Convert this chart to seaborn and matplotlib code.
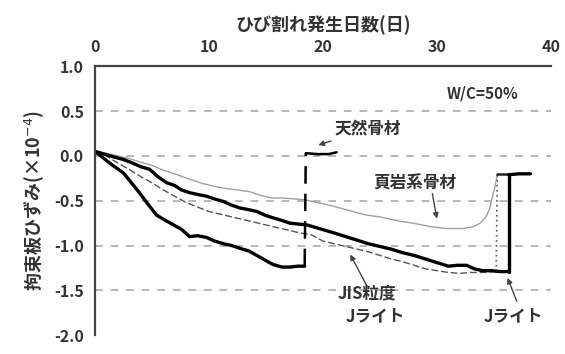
import matplotlib
matplotlib.use("Agg")
import matplotlib.pyplot as plt
import seaborn as sns
import pandas as pd

# --- data: strain of restraint plate (x1e-4) vs. days to cracking ---
nat_days = [0, 0.5, 1.5, 2.5, 3.2, 3.9, 4.6, 5.4, 6.2, 6.9, 7.6, 8.3, 9.0, 9.8,
            10.5, 11.3, 12.0, 12.7, 13.5, 14.2, 14.9, 15.6, 16.4, 17.1, 17.8, 18.4]
nat_vals = [0.05, 0.0, -0.10, -0.19, -0.30, -0.41, -0.53, -0.66, -0.72, -0.77,
            -0.82, -0.90, -0.89, -0.91, -0.95, -0.98, -1.00, -1.03, -1.06, -1.11,
            -1.16, -1.21, -1.24, -1.24, -1.23, -1.23]
nat_after_days = [18.5, 19.5, 20.5, 21.2]
nat_after_vals = [0.03, 0.02, 0.02, 0.04]

jl_days = [0, 0.8, 1.6, 2.5, 3.3, 4.0, 4.8, 5.5, 6.3, 7.0, 7.6, 8.3, 9.0, 9.8,
           10.5, 11.3, 12.0, 12.7, 13.5, 14.2, 14.9, 15.6, 16.4, 17.1, 17.8, 18.6,
           19.4, 20.2, 21.0, 22.0, 23.0, 24.0, 25.0, 26.0, 27.0, 28.0, 29.0, 30.0,
           31.0, 31.8, 32.6, 33.3, 34.0, 34.8, 35.5, 36.3]
jl_vals = [0.05, 0.02, -0.01, -0.04, -0.08, -0.12, -0.15, -0.23, -0.30, -0.33,
           -0.38, -0.41, -0.43, -0.45, -0.48, -0.51, -0.55, -0.58, -0.60, -0.62,
           -0.66, -0.69, -0.72, -0.75, -0.76, -0.77, -0.80, -0.83, -0.86, -0.90,
           -0.94, -0.98, -1.01, -1.04, -1.08, -1.11, -1.15, -1.19, -1.23, -1.22,
           -1.22, -1.26, -1.28, -1.28, -1.29, -1.29]
jl_after_days = [36.3, 37.2, 38.2]
jl_after_vals = [-0.21, -0.20, -0.20]

jis_days = [0, 1, 2, 3, 4, 5, 6, 7, 8, 9, 10, 11, 12, 13, 14, 15, 16, 17, 18,
            19, 20, 21, 22, 23, 24, 25, 26, 27, 28, 29, 30, 31, 32, 33, 34, 35.2]
jis_vals = [0.05, 0.0, -0.08, -0.15, -0.23, -0.30, -0.38, -0.45, -0.52, -0.57,
            -0.62, -0.65, -0.68, -0.71, -0.74, -0.77, -0.80, -0.83, -0.86, -0.88,
            -0.95, -0.98, -1.01, -1.04, -1.07, -1.11, -1.15, -1.18, -1.22, -1.26,
            -1.28, -1.30, -1.31, -1.30, -1.30, -1.29]
jis_after_days = [35.3, 36.3]
jis_after_vals = [-0.20, -0.20]

sh_days = [0, 1, 2, 3, 4, 5.1, 6, 7, 8.3, 9.5, 10.5, 11.3, 12.5, 13.6, 14.5,
           15.5, 16.5, 17.5, 18.4, 19.5, 20.9, 22.3, 23.8, 25.0, 26.8, 27.9,
           29.5, 30.8, 32.3, 33.2, 33.8, 34.3, 34.6, 35.1, 35.3]
sh_vals = [0.05, 0.03, 0.0, -0.03, -0.07, -0.11, -0.16, -0.20, -0.26, -0.31,
           -0.34, -0.36, -0.38, -0.40, -0.44, -0.47, -0.47, -0.48, -0.49, -0.52,
           -0.56, -0.61, -0.66, -0.68, -0.73, -0.75, -0.79, -0.81, -0.81, -0.79,
           -0.75, -0.68, -0.60, -0.34, -0.22]

x_ticks = [0, 10, 20, 30, 40]
y_ticks = [1.0, 0.5, 0.0, -0.5, -1.0, -1.5, -2.0]
grid_levels = [0.5, 0.0, -0.5, -1.0, -1.5]

sns.set_theme(style="white")
plt.rcParams["font.family"] = ["Noto Sans CJK JP", "DejaVu Sans"]
plt.rcParams["axes.unicode_minus"] = False

TXT = "#333333"
fig = plt.figure(figsize=(5.65, 3.54), dpi=100)
ax = fig.add_axes([0.168, 0.053, 0.807, 0.760])

for g in grid_levels:
    ax.axhline(g, color="#b8b8b8", lw=1.4, ls=(0, (4, 4)), zorder=0)


def seg(x, y, **kw):
    df = pd.DataFrame({"day": x, "strain": y})
    sns.lineplot(data=df, x="day", y="strain", ax=ax, sort=False,
                 estimator=None, legend=False, **kw)


# shale aggregate (thin grey)
seg(sh_days, sh_vals, color="#a0a0a0", lw=1.0)
# JIS grading J-lite (dashed)
seg(jis_days, jis_vals, color="#555555", lw=1.0, ls=(0, (5, 2)))
seg([jis_days[-1], jis_after_days[0]], [jis_vals[-1], jis_after_vals[0]],
    color="#555555", lw=1.2, ls=(0, (1, 2)))
seg(jis_after_days, jis_after_vals, color="#222222", lw=1.8)
# natural aggregate
seg(nat_days, nat_vals, color="black", lw=2.4)
seg([nat_days[-1], nat_after_days[0]], [nat_vals[-1], nat_after_vals[0]],
    color="black", lw=1.8, ls=(0, (7, 4)))
seg(nat_after_days, nat_after_vals, color="black", lw=1.8)
# J-lite
seg(jl_days, jl_vals, color="black", lw=2.4)
seg([jl_days[-1], jl_after_days[0]], [jl_vals[-1], jl_after_vals[0]],
    color="black", lw=2.4)
seg(jl_after_days, jl_after_vals, color="black", lw=2.4)

ax.set_xlim(0, 40)
ax.set_ylim(-2.0, 1.0)
ax.set_xticks(x_ticks)
ax.set_yticks(y_ticks)
ax.set_yticklabels([f"{v:.1f}" for v in y_ticks])
ax.xaxis.tick_top()
ax.xaxis.set_label_position("top")
ax.set_xlabel("ひび割れ発生日数(日)", fontsize=13, fontweight="bold",
              color=TXT, labelpad=6)
ax.set_ylabel("拘束板ひずみ(×10$^{-4}$)", fontsize=13, fontweight="bold",
              color=TXT, labelpad=6)
ax.tick_params(axis="both", labelsize=11.5, length=0, pad=8, labelcolor=TXT)
for lab in ax.get_xticklabels() + ax.get_yticklabels():
    lab.set_fontweight("bold")
for s in ["right", "bottom"]:
    ax.spines[s].set_visible(False)
for s in ["top", "left"]:
    ax.spines[s].set_color("#444444")
    ax.spines[s].set_linewidth(1.6)

arrow = dict(arrowstyle="-|>", color="#444444", lw=1.0, mutation_scale=8,
             shrinkA=0, shrinkB=0)
fs = 12
ax.text(34.0, 0.70, "W/C=50%", fontsize=11, fontweight="bold", color=TXT,
        ha="center", va="center")
ax.annotate("天然骨材", xy=(19.6, 0.12), xytext=(21.0, 0.30), fontsize=fs,
            fontweight="bold", color=TXT, ha="left", va="center",
            arrowprops=arrow)
ax.annotate("", xy=(30.0, -0.70), xytext=(29.6, -0.42), arrowprops=arrow)
ax.text(28.1, -0.31, "頁岩系骨材", fontsize=fs, fontweight="bold", color=TXT,
        ha="center", va="center")
ax.annotate("", xy=(22.4, -1.10), xytext=(23.9, -1.46), arrowprops=arrow)
ax.text(23.9, -1.53, "JIS粒度", fontsize=fs, fontweight="bold", color=TXT,
        ha="center", va="center")
ax.text(24.6, -1.79, "Jライト", fontsize=fs, fontweight="bold", color=TXT,
        ha="center", va="center")
ax.annotate("", xy=(36.2, -1.36), xytext=(37.0, -1.62), arrowprops=arrow)
ax.text(36.7, -1.79, "Jライト", fontsize=fs, fontweight="bold", color=TXT,
        ha="center", va="center")

fig.savefig("out.png", dpi=100)
